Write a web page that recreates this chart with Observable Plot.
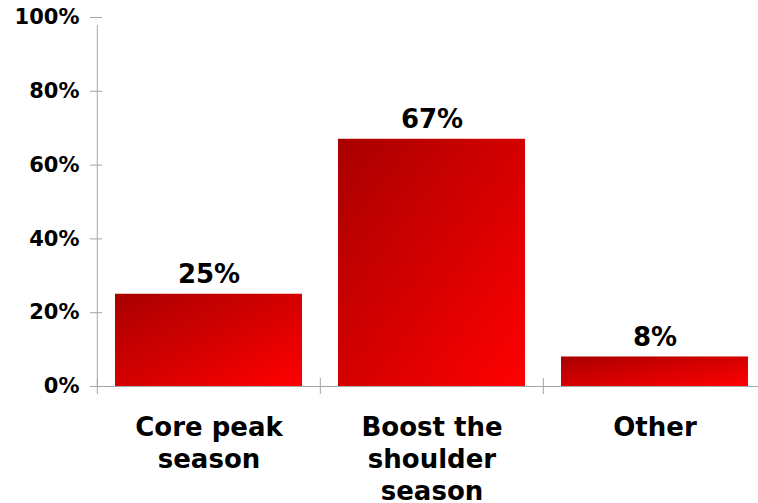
<!DOCTYPE html>
<html><head><meta charset="utf-8">
<script src="https://cdn.jsdelivr.net/npm/d3@7"></script>
<script src="https://cdn.jsdelivr.net/npm/@observablehq/plot@0.6"></script>
<style>html,body{margin:0;padding:0;background:#fff;overflow:hidden}</style>
</head><body><div id="chart"></div>
<script>
const categories = ["Core peak season", "Boost the shoulder season", "Other"];
const categoryLabels = ["Core peak\nseason", "Boost the\nshoulder\nseason", "Other"];
const shares = [25, 67, 8];
const yTicks = [0, 20, 40, 60, 80, 100];

const data = categories.map((c, i) => ({category: c, label: categoryLabels[i], value: shares[i]}));
const xRange = [96, 766];
const step = (xRange[1] - xRange[0]) / categories.length;
const axisColor = "#a6a6a6";

function gradientDefs() {
  const ns = "http://www.w3.org/2000/svg";
  const defs = document.createElementNS(ns, "defs");
  const g = document.createElementNS(ns, "linearGradient");
  g.setAttribute("id", "barGrad");
  g.setAttribute("x1", "0"); g.setAttribute("y1", "0");
  g.setAttribute("x2", "1"); g.setAttribute("y2", "1");
  [["0%", "#a80000"], ["50%", "#d40000"], ["100%", "#ff0000"]].forEach(([o, c]) => {
    const s = document.createElementNS(ns, "stop");
    s.setAttribute("offset", o); s.setAttribute("stop-color", c);
    g.appendChild(s);
  });
  defs.appendChild(g);
  return defs;
}

const chart = Plot.plot({
  width: 758, height: 503,
  marginTop: 17, marginBottom: 117, marginLeft: 96, marginRight: -8,
  style: {fontFamily: "'DejaVu Sans', Verdana, sans-serif", fontWeight: "bold", background: "#fff", color: "#000"},
  x: {domain: categories, range: xRange, paddingInner: 0.163, paddingOuter: 0.0815, axis: null},
  y: {domain: [0, 100], axis: null},
  marks: [
    gradientDefs,
    Plot.barY(data, {x: "category", y: "value", fill: "url(#barGrad)"}),
    Plot.ruleY([0], {stroke: axisColor, strokeWidth: 1}),
    Plot.ruleX([categories[0]], {x: d => d, dx: -step / 2, y1: 0, y2: 100, insetBottom: -8, stroke: axisColor}),
    Plot.ruleX(data, {x: "category", dx: -step / 2, y1: 0, y2: 0, insetTop: -8, insetBottom: -8, stroke: axisColor}),
    Plot.axisY(yTicks, {tickSize: 12, dx: 6, tickFormat: () => "", stroke: axisColor, label: null}),
    Plot.axisY(yTicks, {tickSize: 0, tickPadding: 17, tickFormat: d => d + "%", fontSize: 21, fontWeight: "bold", fill: "#000", label: null}),
    Plot.text(data, {x: "category", y: "value", text: d => d.value + "%", dy: -11, lineAnchor: "bottom", fontSize: 26, fontWeight: "bold", fill: "#000"}),
    Plot.text(data, {x: "category", y: () => 0, text: "label", lineAnchor: "top", dy: 27, fontSize: 26, lineHeight: 1.23, fontWeight: "bold", fill: "#000"})
  ]
});
document.getElementById("chart").appendChild(chart);
</script>
</body></html>
